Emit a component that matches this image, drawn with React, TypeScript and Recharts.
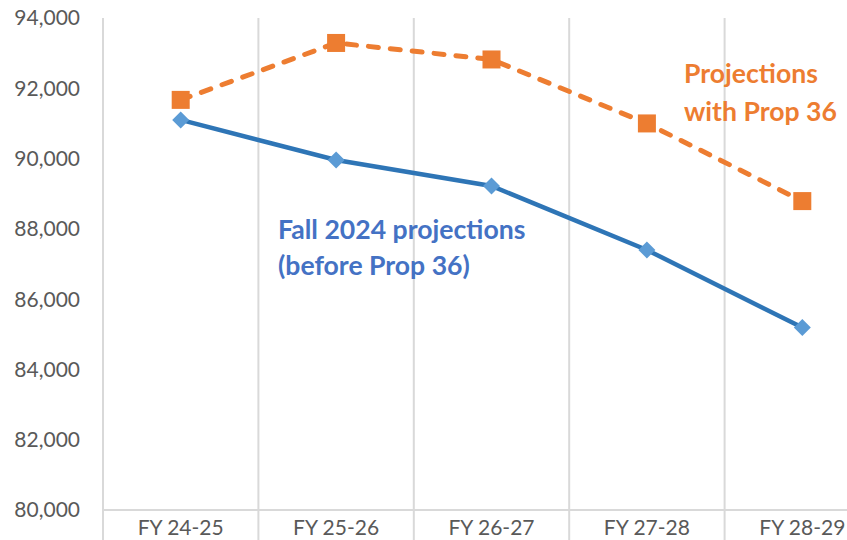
import { LineChart, Line, XAxis, YAxis, ReferenceLine } from 'recharts';

const categories = ['FY 24-25', 'FY 25-26', 'FY 26-27', 'FY 27-28', 'FY 28-29'];
const withProp36 = [91670, 93290, 92820, 91000, 88790];
const fall2024 = [91100, 89960, 89220, 87400, 85190];
const yTicks = [80000, 82000, 84000, 86000, 88000, 90000, 92000, 94000];

const data = categories.map((name, i) => ({
  idx: i,
  name,
  withProp36: withProp36[i],
  fall2024: fall2024[i],
}));

// category boundaries (Excel style gridlines sit between categories)
const boundaries = categories.map((_, i) => i - 0.5).concat(categories.length - 0.5);
const xTicks = categories.flatMap((_, i) => [i - 0.5, i]).concat(categories.length - 0.5);

const GRID = '#D9D9D9';
const TEXT = '#595959';
const ORANGE = '#ED7D31';
const BLUE = '#2E75B6';
const BLUE_MARK = '#5B9BD5';

function XTick(props: any) {
  const { x, y, payload } = props;
  const v = payload.value as number;
  if (!Number.isInteger(v)) {
    return <line x1={x} x2={x} y1={y} y2={y + 32} stroke={GRID} strokeWidth={2} />;
  }
  return (
    <text x={x} y={y + 25} textAnchor="middle" fill={TEXT} fontSize={21} fontFamily="Lato">
      {categories[v]}
    </text>
  );
}

function SquareDot(props: any) {
  const { cx, cy, index } = props;
  return <rect key={`sq-${index}`} x={cx - 9} y={cy - 9} width={18} height={18} fill={ORANGE} />;
}

function DiamondDot(props: any) {
  const { cx, cy, index } = props;
  const r = 8.5;
  return (
    <path
      key={`dm-${index}`}
      d={`M${cx},${cy - r} L${cx + r},${cy} L${cx},${cy + r} L${cx - r},${cy} Z`}
      fill={BLUE_MARK}
    />
  );
}

export default function App() {
  return (
    <div
      style={{
        position: 'absolute',
        left: 0,
        top: 0,
        width: 847,
        height: 540,
        overflow: 'hidden',
        background: '#fff',
        fontFamily: 'Lato',
      }}
    >
      <LineChart width={880} height={540} data={data} margin={{ top: 18, right: 0, bottom: 0, left: 0 }}>
        <XAxis
          dataKey="idx"
          type="number"
          domain={[-0.5, categories.length - 0.5]}
          ticks={xTicks}
          interval={0}
          height={30}
          tickSize={0}
          tickMargin={0}
          tickLine={false}
          axisLine={{ stroke: GRID, strokeWidth: 2 }}
          tick={<XTick />}
        />
        <YAxis
          domain={[80000, 94000]}
          ticks={yTicks}
          width={103}
          tickSize={0}
          tickMargin={23}
          tickLine={false}
          axisLine={false}
          tickFormatter={(v: number) => v.toLocaleString('en-US')}
          tick={{ fill: TEXT, fontSize: 21, fontFamily: 'Lato' }}
        />
        {boundaries.map((b) => (
          <ReferenceLine key={b} x={b} stroke={GRID} strokeWidth={2} />
        ))}
        <Line
          dataKey="fall2024"
          stroke={BLUE}
          strokeWidth={4.5}
          dot={<DiamondDot />}
          activeDot={false}
          isAnimationActive={false}
        />
        <Line
          dataKey="withProp36"
          stroke={ORANGE}
          strokeWidth={5}
          strokeDasharray="10 12"
          strokeLinecap="round"
          dot={<SquareDot />}
          activeDot={false}
          isAnimationActive={false}
        />
      </LineChart>
      <div
        style={{
          position: 'absolute',
          left: 684,
          top: 54,
          color: ORANGE,
          fontWeight: 700,
          fontSize: 26.6,
          lineHeight: '38px',
          whiteSpace: 'nowrap',
        }}
      >
        Projections
        <br />
        with Prop 36
      </div>
      <div
        style={{
          position: 'absolute',
          left: 278,
          top: 211,
          color: '#4472C4',
          fontWeight: 700,
          fontSize: 26.6,
          lineHeight: '36px',
          whiteSpace: 'nowrap',
        }}
      >
        Fall 2024 projections
        <br />
        (before Prop 36)
      </div>
    </div>
  );
}
